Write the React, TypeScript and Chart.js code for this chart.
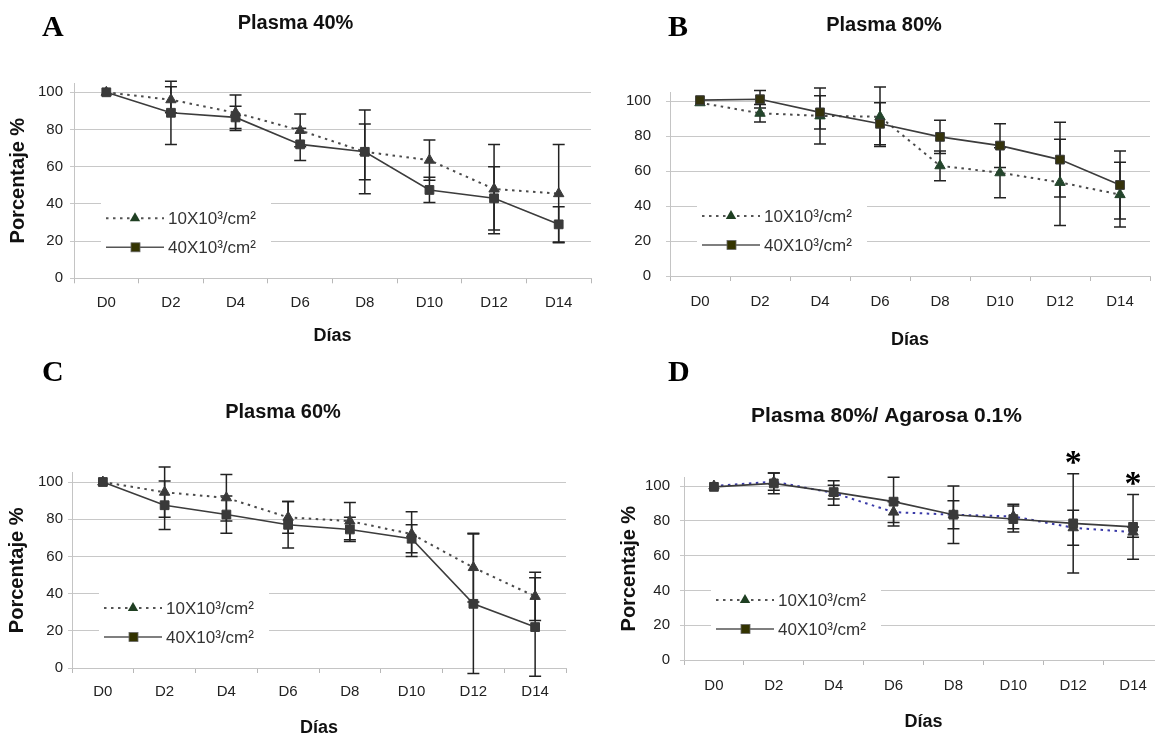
import React, { useEffect, useRef } from 'react';
import { Chart, registerables } from 'chart.js';

Chart.register(...registerables);
Chart.defaults.font.family = "'Liberation Sans', Arial, sans-serif";

// ---------- data ----------
const days = ['D0', 'D2', 'D4', 'D6', 'D8', 'D10', 'D12', 'D14'];
const yTickValues = [0, 20, 40, 60, 80, 100];
const yMax = 105;
const seriesLabels = ['10X10³/cm²', '40X10³/cm²'];
const panelLetters = ['A', 'B', 'C', 'D'];
const panelTitles = ['Plasma 40%', 'Plasma 80%', 'Plasma 60%', 'Plasma 80%/ Agarosa 0.1%'];
const xTitle = 'Días';
const yTitle = 'Porcentaje %';

// Panel A – Plasma 40%
const a10 = [100, 96, 89, 79.5, 68, 63.5, 48, 45.5];
const a10Err = [0, 7, 9.5, 8.8, 15, 10.8, 24, 26.4];
const a40 = [100, 89, 86.5, 72, 68, 47.5, 43, 29];
const a40Err = [0, 17, 6, 8.7, 22.5, 6.8, 17, 9.5];

// Panel B – Plasma 80%
const b10 = [99, 93, 91.5, 91, 63, 59, 53.5, 46.5];
const b10Err = [0, 5, 16, 17, 8.5, 14.3, 24.7, 18.5];
const b40 = [100.5, 101, 93.5, 87, 79.5, 74.5, 66.5, 52];
const b40Err = [0, 5, 9.5, 12, 9.5, 12.5, 21.3, 19.4];

// Panel C – Plasma 60%
const c10 = [100, 94.5, 91.5, 81, 79, 72, 54, 38.5];
const c10Err = [0, 13.5, 12.5, 8.5, 10, 12, 18.5, 13];
const c40 = [100, 87.5, 82.5, 77, 74.5, 69.5, 34.5, 22];
const c40Err = [0, 13, 10, 12.5, 6.5, 7.5, 37.5, 26.5];

// Panel D – Plasma 80% / Agarosa 0.1%
const d10 = [100, 102.5, 96, 85, 83.5, 82.5, 76, 73.5];
const d10Err = [0, 5, 7, 6, 8, 7, 10, 3];
const d40 = [99.5, 101.5, 96.5, 91, 83.5, 81, 78.5, 76.5];
const d40Err = [0, 6, 4, 14, 16.5, 7.5, 28.5, 18.6];
const dSignificant = [6, 7];
const starText = '*';

// ---------- layout ----------
type PanelCfg = {
  letter: string; title: string; titleSize: number;
  left: number; top: number; width: number; height: number; padRight: number;
  titlePadTop: number; titlePadBottom: number;
  yWidth: number; showYTitle: boolean; yTitlePad: number; yTickPad: number;
  xHeight: number; xTickPad: number; xTitlePad: number;
  letterX: number; letterY: number;
  v10: number[]; e10: number[]; v40: number[]; e40: number[];
  triColor: string; sqColor: string; dotColor: string;
  stars: number[];
};

const PANELS: PanelCfg[] = [
  {
    letter: panelLetters[0], title: panelTitles[0], titleSize: 20,
    left: 0, top: 0, width: 626, height: 350, padRight: 35,
    titlePadTop: 11, titlePadBottom: 48,
    yWidth: 74, showYTitle: true, yTitlePad: 6.5, yTickPad: 7,
    xHeight: 71.7, xTickPad: 10.7, xTitlePad: 3.2,
    letterX: 42, letterY: 36,
    v10: a10, e10: a10Err, v40: a40, e40: a40Err,
    triColor: '#3a3a3a', sqColor: '#3a3a3a', dotColor: '#4a4a4a', stars: [],
  },
  {
    letter: panelLetters[1], title: panelTitles[1], titleSize: 20,
    left: 618, top: 0, width: 553, height: 352, padRight: 21,
    titlePadTop: 13, titlePadBottom: 55.25,
    yWidth: 52, showYTitle: false, yTitlePad: 0, yTickPad: 15,
    xHeight: 76, xTickPad: 11.7, xTitlePad: 1.2,
    letterX: 50, letterY: 36,
    v10: b10, e10: b10Err, v40: b40, e40: b40Err,
    triColor: '#24452c', sqColor: '#35330c', dotColor: '#4a4a4a', stars: [],
  },
  {
    letter: panelLetters[2], title: panelTitles[2], titleSize: 20,
    left: 0, top: 340, width: 620, height: 400, padRight: 54,
    titlePadTop: 60, titlePadBottom: 48.7,
    yWidth: 72, showYTitle: true, yTitlePad: 5, yTickPad: 5,
    xHeight: 72, xTickPad: 9.7, xTitlePad: 1.2,
    letterX: 42, letterY: 41,
    v10: c10, e10: c10Err, v40: c40, e40: c40Err,
    triColor: '#3a3a3a', sqColor: '#3a3a3a', dotColor: '#4a4a4a', stars: [],
  },
  {
    letter: panelLetters[3], title: panelTitles[3], titleSize: 21,
    left: 610, top: 340, width: 610, height: 400, padRight: 57,
    titlePadTop: 63.4, titlePadBottom: 48.7,
    yWidth: 74, showYTitle: true, yTitlePad: 7, yTickPad: 10,
    xHeight: 80, xTickPad: 12, xTitlePad: 7.5,
    letterX: 58, letterY: 41,
    v10: d10, e10: d10Err, v40: d40, e40: d40Err,
    triColor: '#3a3a3a', sqColor: '#3a3a3a', dotColor: '#3a3aa8', stars: dSignificant,
  },
];

const LEGEND_TRI = '#1f3f22';
const LEGEND_SQ = '#333300';
const DOT_DASH = [2.5, 4.5];

function tri(ctx: CanvasRenderingContext2D, x: number, y: number, r: number, fill: string) {
  const c = Math.cos(Math.PI / 6);
  ctx.beginPath();
  ctx.moveTo(x, y - r);
  ctx.lineTo(x + r * c, y + r / 2);
  ctx.lineTo(x - r * c, y + r / 2);
  ctx.closePath();
  ctx.fillStyle = fill;
  ctx.fill();
}

function makeDecor(p: PanelCfg) {
  const errs = [p.e10, p.e40];
  const vals = [p.v10, p.v40];
  return {
    id: 'decor' + p.letter,
    beforeDatasetsDraw(chart: any) {
      const ctx: CanvasRenderingContext2D = chart.ctx;
      const ca = chart.chartArea;
      const ys = chart.scales.y;
      // legend (inside plot, white box hides grid lines)
      ctx.save();
      ctx.fillStyle = '#ffffff';
      ctx.fillRect(ca.left + 27, ca.bottom - 84, 170, 66);
      const rows = [ca.bottom - 60, ca.bottom - 31];
      rows.forEach((ry, i) => {
        ctx.strokeStyle = '#555555';
        ctx.lineWidth = i === 0 ? 2 : 1.5;
        ctx.setLineDash(i === 0 ? DOT_DASH : []);
        ctx.beginPath();
        ctx.moveTo(ca.left + 32, ry);
        ctx.lineTo(ca.left + 90, ry);
        ctx.stroke();
        ctx.setLineDash([]);
        if (i === 0) {
          tri(ctx, ca.left + 61, ry, 6, LEGEND_TRI);
        } else {
          ctx.fillStyle = LEGEND_SQ;
          ctx.fillRect(ca.left + 57, ry - 4.5, 9, 9);
          ctx.strokeStyle = '#666';
          ctx.lineWidth = 0.8;
          ctx.strokeRect(ca.left + 57, ry - 4.5, 9, 9);
        }
        ctx.fillStyle = '#333333';
        ctx.font = "17px 'Liberation Sans', Arial, sans-serif";
        ctx.textBaseline = 'middle';
        ctx.textAlign = 'left';
        ctx.fillText(seriesLabels[i], ca.left + 94, ry + 1);
      });
      // error bars
      ctx.strokeStyle = '#222222';
      ctx.lineWidth = 1.5;
      [0, 1].forEach((di) => {
        const meta = chart.getDatasetMeta(di);
        meta.data.forEach((pt: any, j: number) => {
          const e = errs[di][j];
          if (!e) return;
          const v = vals[di][j];
          const yt = ys.getPixelForValue(v + e);
          const yb = ys.getPixelForValue(v - e);
          ctx.beginPath();
          ctx.moveTo(pt.x, yt);
          ctx.lineTo(pt.x, yb);
          ctx.moveTo(pt.x - 6, yt);
          ctx.lineTo(pt.x + 6, yt);
          ctx.moveTo(pt.x - 6, yb);
          ctx.lineTo(pt.x + 6, yb);
          ctx.stroke();
        });
      });
      ctx.restore();
    },
    afterDraw(chart: any) {
      const ctx: CanvasRenderingContext2D = chart.ctx;
      const ys = chart.scales.y;
      ctx.save();
      ctx.fillStyle = '#000';
      ctx.font = "bold 30px 'Liberation Serif', 'Times New Roman', serif";
      ctx.textBaseline = 'alphabetic';
      ctx.textAlign = 'left';
      ctx.fillText(p.letter, p.letterX, p.letterY);
      // significance stars
      ctx.font = "bold 34px 'Liberation Serif', 'Times New Roman', serif";
      ctx.textAlign = 'center';
      const m = ctx.measureText(starText);
      const off = (m.actualBoundingBoxAscent - m.actualBoundingBoxDescent) / 2;
      p.stars.forEach((idx) => {
        const pt = chart.getDatasetMeta(1).data[idx];
        const top = Math.max(p.v10[idx] + p.e10[idx], p.v40[idx] + p.e40[idx]);
        const cy = ys.getPixelForValue(top) - 16;
        ctx.fillText(starText, pt.x, cy + off);
      });
      ctx.restore();
    },
  };
}

function Panel({ p }: { p: PanelCfg }) {
  const ref = useRef<HTMLCanvasElement>(null);
  useEffect(() => {
    const chart = new Chart(ref.current as HTMLCanvasElement, {
      type: 'line',
      data: {
        labels: days,
        datasets: [
          {
            label: seriesLabels[0], data: p.v10, order: 2,
            borderColor: p.dotColor, borderWidth: 2, borderDash: DOT_DASH,
            pointStyle: 'triangle', pointRadius: 6, pointHoverRadius: 6,
            pointBackgroundColor: p.triColor, pointBorderColor: p.triColor, pointBorderWidth: 1,
            tension: 0, fill: false,
          },
          {
            label: seriesLabels[1], data: p.v40, order: 1,
            borderColor: '#3c3c3c', borderWidth: 1.6,
            pointStyle: 'rect', pointRadius: 6.2, pointHoverRadius: 6.2,
            pointBackgroundColor: p.sqColor, pointBorderColor: '#3a3a3a', pointBorderWidth: 1,
            tension: 0, fill: false,
          },
        ],
      },
      options: {
        responsive: false,
        animation: false,
        devicePixelRatio: 1,
        layout: { padding: { left: 0, top: 0, bottom: 0, right: p.padRight } },
        plugins: {
          legend: { display: false },
          tooltip: { enabled: false },
          title: {
            display: true, text: p.title, color: '#111',
            font: { size: p.titleSize, weight: 'bold' },
            padding: { top: p.titlePadTop, bottom: p.titlePadBottom },
          },
        },
        scales: {
          x: {
            type: 'category', offset: true,
            grid: { offset: true, drawOnChartArea: false, drawTicks: true, tickLength: 5, color: '#b8b8b8' },
            border: { display: true, color: '#c4c4c4' },
            ticks: { color: '#222', font: { size: 15 }, padding: p.xTickPad, autoSkip: false, maxRotation: 0 },
            title: {
              display: true, text: xTitle, color: '#111',
              font: { size: 18, weight: 'bold' }, padding: { top: 0, bottom: p.xTitlePad },
            },
            afterFit: (s: any) => { s.height = p.xHeight; },
          },
          y: {
            min: 0, max: yMax,
            grid: { color: '#c8c8c8', drawTicks: true, tickLength: 4 },
            border: { display: true, color: '#c4c4c4' },
            ticks: { color: '#222', font: { size: 15 }, padding: p.yTickPad },
            afterBuildTicks: (axis: any) => { axis.ticks = yTickValues.map((v) => ({ value: v })); },
            title: {
              display: p.showYTitle, text: yTitle, color: '#111',
              font: { size: 20, weight: 'bold' }, padding: { top: p.yTitlePad, bottom: 0 },
            },
            afterFit: (s: any) => { s.width = p.yWidth; },
          },
        },
      } as any,
      plugins: [makeDecor(p)],
    });
    return () => chart.destroy();
  }, []);
  return (
    <canvas
      ref={ref}
      width={p.width}
      height={p.height}
      style={{ position: 'absolute', left: p.left, top: p.top, width: p.width, height: p.height }}
    />
  );
}

export default function App() {
  return (
    <div style={{ position: 'fixed', left: 0, top: 0, width: 1155, height: 740, overflow: 'hidden', background: '#fff' }}>
      {PANELS.map((p) => (
        <Panel key={p.letter} p={p} />
      ))}
    </div>
  );
}
